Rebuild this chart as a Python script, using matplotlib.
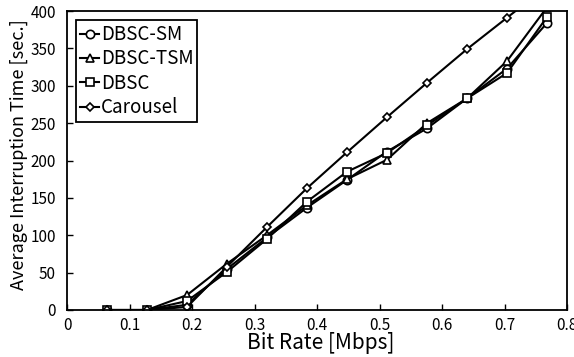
import matplotlib
matplotlib.use("Agg")
import matplotlib.pyplot as plt

plt.rcParams['font.family'] = ['Noto Sans CJK JP', 'DejaVu Sans']

bit_rate = [0.064, 0.128, 0.192, 0.256, 0.320, 0.384, 0.448, 0.512, 0.576, 0.640, 0.704, 0.768]
dbsc_sm = [0, 0, 7, 55, 97, 137, 174, 212, 243, 283, 323, 384]
dbsc_tsm = [0, 0, 20, 62, 100, 140, 175, 201, 250, 283, 333, 405]
dbsc = [0, 0, 12, 51, 95, 145, 185, 210, 247, 283, 317, 392]
carousel = [0, 0, 4, 58, 111, 163, 211, 258, 304, 349, 391, 433]

x_ticks = [0, 0.1, 0.2, 0.3, 0.4, 0.5, 0.6, 0.7, 0.8]
x_tick_labels = ["0", "0.1", "0.2", "0.3", "0.4", "0.5", "0.6", "0.7", "0.8"]
y_ticks = [0, 50, 100, 150, 200, 250, 300, 350, 400]

fig = plt.figure(figsize=(5.74, 3.57), dpi=100)
ax = fig.add_axes([67/574, 1-310/357, 500/574, 299/357])

common = dict(color='black', linewidth=1.5, markerfacecolor='white', markeredgecolor='black',
              markeredgewidth=1.2, clip_on=True)
ax.plot(bit_rate, dbsc_sm, marker='o', markersize=6, label='DBSC-SM', **common)
ax.plot(bit_rate, dbsc_tsm, marker='^', markersize=6, label='DBSC-TSM', **common)
ax.plot(bit_rate, dbsc, marker='s', markersize=6, label='DBSC', **common)
ax.plot(bit_rate, carousel, marker='D', markersize=3.8, label='Carousel', **common)

ax.set_xlim(0, 0.8)
ax.set_ylim(0, 400)
ax.set_xticks(x_ticks)
ax.set_xticklabels(x_tick_labels)
ax.set_yticks(y_ticks)
ax.tick_params(direction='in', length=4, width=1, labelsize=11, colors='black')
ax.tick_params(axis='x', pad=5)
ax.tick_params(axis='y', pad=8)
for s in ax.spines.values():
    s.set_linewidth(1.3)

ax.set_xlabel('Bit Rate [Mbps]', fontsize=15)
ax.xaxis.set_label_coords(0.508, -0.075)
ax.xaxis.label.set_va('top')
ax.set_ylabel('Average Interruption Time [sec.]', fontsize=13)
ax.yaxis.set_label_coords(-0.078, 0.52)

leg = ax.legend(loc='upper left', bbox_to_anchor=(0.0, 1.0), fontsize=13.5, handlelength=1.0,
                handletextpad=0.1, borderpad=0.2, labelspacing=0.18, fancybox=False,
                framealpha=1, edgecolor='black', borderaxespad=0.5)
leg.get_frame().set_linewidth(1.3)

fig.savefig('out.png', dpi=100)
